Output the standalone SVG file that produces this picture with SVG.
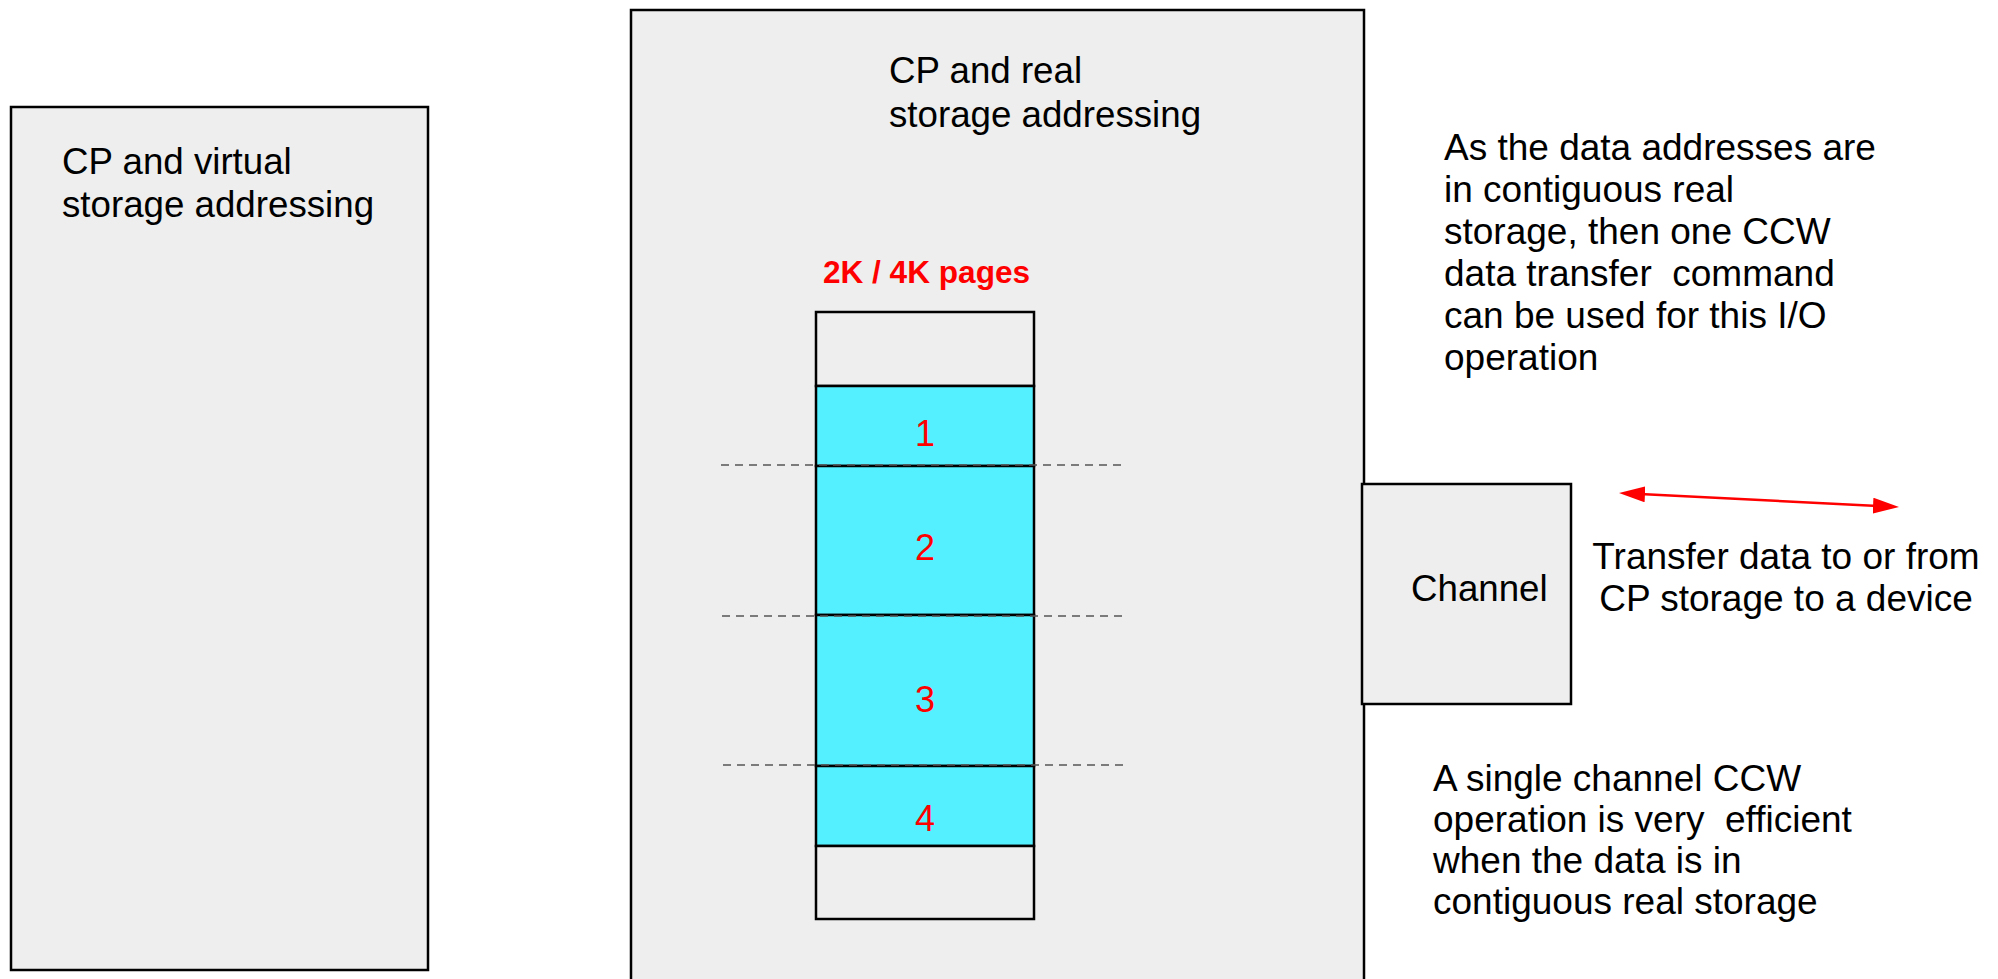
<svg xmlns="http://www.w3.org/2000/svg" width="1998" height="979" viewBox="0 0 1998 979">
  <style>
    .panel { fill: #EEEEEE; stroke: #000000; stroke-width: 2.5; }
    .page { fill: #55F0FF; stroke: #000000; stroke-width: 2.5; }
    .empty { fill: #EEEEEE; stroke: #000000; stroke-width: 2.5; }
    .txt { font-family: "Liberation Sans", Arial, sans-serif; font-size: 36.7px; fill: #000000; }
    .note { font-family: "Liberation Sans", Arial, sans-serif; font-size: 37px; fill: #000000; }
    .num { font-family: "Liberation Sans", Arial, sans-serif; font-size: 36px; fill: #FF0000; text-anchor: middle; }
    .hdr { font-family: "Liberation Sans", Arial, sans-serif; font-size: 31.6px; font-weight: bold; fill: #FF0000; text-anchor: middle; }
    .guide { stroke: #555555; stroke-width: 1.5; stroke-dasharray: 8 6; fill: none; }
    .flow { stroke: #FF0000; stroke-width: 2.5; fill: none; }
  </style>
  <defs>
    <marker id="redHead" markerUnits="userSpaceOnUse" markerWidth="26" markerHeight="16" viewBox="0 0 26 16" refX="20" refY="8" orient="auto-start-reverse">
      <path d="M0,0 L26,8 L0,16 z" fill="#FF0000"/>
    </marker>
  </defs>

  <rect x="0" y="0" width="1998" height="979" fill="#FFFFFF"/>

  <!-- virtual storage panel -->
  <g id="virtual-storage">
    <rect class="panel" x="11" y="107" width="417" height="863"/>
    <text class="txt" x="62" y="173.5">CP and virtual</text>
    <text class="txt" x="62" y="217">storage addressing</text>
  </g>

  <!-- real storage panel (runs off the bottom edge) -->
  <g id="real-storage">
    <rect class="panel" x="631" y="10" width="733" height="1000"/>
    <text class="txt" x="889" y="83">CP and real</text>
    <text class="txt" x="889" y="126.5">storage addressing</text>
  </g>

  <!-- column of contiguous pages -->
  <g id="page-column">
    <text class="hdr" x="926.5" y="283">2K / 4K pages</text>
    <rect class="empty" x="816" y="312" width="218" height="74"/>
    <rect class="page" x="816" y="386" width="218" height="80"/>
    <rect class="page" x="816" y="466" width="218" height="149"/>
    <rect class="page" x="816" y="615" width="218" height="151"/>
    <rect class="page" x="816" y="766" width="218" height="80"/>
    <rect class="empty" x="816" y="846" width="218" height="73"/>
    <text class="num" x="925" y="446">1</text>
    <text class="num" x="925" y="560">2</text>
    <text class="num" x="925" y="712">3</text>
    <text class="num" x="925" y="831">4</text>
  </g>

  <!-- page boundary guides -->
  <g id="guides">
    <line class="guide" x1="721" y1="465" x2="1125" y2="465"/>
    <line class="guide" x1="722" y1="616" x2="1126" y2="616"/>
    <line class="guide" x1="723" y1="765" x2="1127" y2="765"/>
  </g>

  <!-- channel -->
  <g id="channel">
    <rect class="panel" x="1362" y="484" width="209" height="220"/>
    <text class="txt" x="1411" y="601">Channel</text>
  </g>

  <!-- notes -->
  <g id="note-contiguous">
    <text class="note" x="1444" y="160">As the data addresses are</text>
    <text class="note" x="1444" y="202">in contiguous real</text>
    <text class="note" x="1444" y="244">storage, then one CCW</text>
    <text class="note" x="1444" y="286" xml:space="preserve">data transfer  command</text>
    <text class="note" x="1444" y="328">can be used for this I/O</text>
    <text class="note" x="1444" y="370">operation</text>
  </g>

  <g id="note-transfer">
    <text class="note" x="1786" y="569" text-anchor="middle">Transfer data to or from</text>
    <text class="note" x="1786" y="611" text-anchor="middle">CP storage to a device</text>
  </g>

  <g id="note-efficient">
    <text class="note" x="1433" y="791">A single channel CCW</text>
    <text class="note" x="1433" y="832" xml:space="preserve">operation is very  efficient</text>
    <text class="note" x="1433" y="873">when the data is in</text>
    <text class="note" x="1433" y="914">contiguous real storage</text>
  </g>

  <!-- connectors -->
  <g id="connectors">
    <line class="flow" x1="1625" y1="493.3" x2="1893" y2="506.7" marker-start="url(#redHead)" marker-end="url(#redHead)"/>
  </g>
</svg>
